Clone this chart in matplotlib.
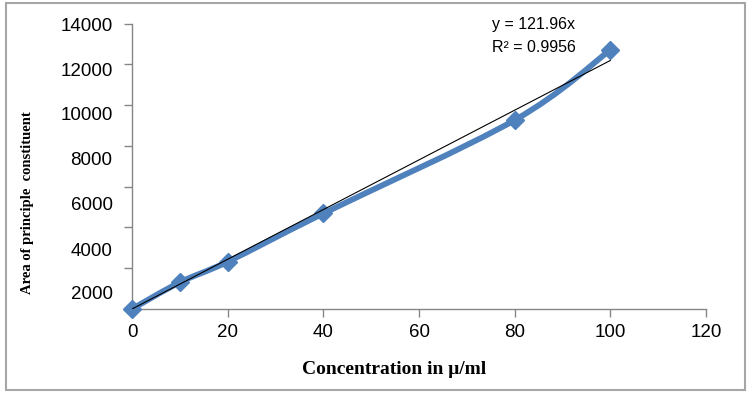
import matplotlib
matplotlib.use("Agg")
import matplotlib.pyplot as plt
import numpy as np
from matplotlib.path import Path
from matplotlib.patches import PathPatch, Rectangle

# concentration (ug/ml) and peak area
conc = [0, 10, 20, 40, 80, 100]
area = [0, 1310, 2320, 4690, 9270, 12710]
slope = 121.96
r2 = 0.9956

x_ticks = [0, 20, 40, 60, 80, 100, 120]
y_ticks = [0, 2000, 4000, 6000, 8000, 10000, 12000, 14000]
y_labels = ["2000", "4000", "6000", "8000", "10000", "12000", "14000"]
# where the labels sit (they are stretched relative to the tick marks)
y_label_pos = [810, 2933, 5161, 7408, 9616, 11765, 13961]

blue = "#4F81BD"
gray = "#868686"

fig = plt.figure(figsize=(7.49, 3.96), dpi=100)
ax = fig.add_axes([132 / 749, 1 - 309 / 396, (706 - 132) / 749, (309 - 23.7) / 396])

# smoothed series line (Catmull-Rom as cubic Bezier segments)
pts = np.column_stack([conc, area]).astype(float)
verts = [tuple(pts[0])]
codes = [Path.MOVETO]
n = len(pts)
for i in range(n - 1):
    p0 = pts[max(i - 1, 0)]
    p1 = pts[i]
    p2 = pts[i + 1]
    p3 = pts[min(i + 2, n - 1)]
    c1 = p1 + (p2 - p0) / 6
    c2 = p2 - (p3 - p1) / 6
    verts += [tuple(c1), tuple(c2), tuple(p2)]
    codes += [Path.CURVE4] * 3
ax.add_patch(PathPatch(Path(verts, codes), facecolor="none", edgecolor=blue,
                       lw=4.2, capstyle="round", joinstyle="round", zorder=2))
ax.plot(conc, area, linestyle="none", marker="D", markersize=9.5,
        color=blue, zorder=3, clip_on=False)

# linear trend through origin
ax.plot([conc[0], conc[-1]], [slope * conc[0], slope * conc[-1]],
        color="black", lw=0.8, zorder=4)

fig.text(492 / 749, 1 - 25 / 396, f"y = {slope}x", fontsize=11.5,
         family="Liberation Sans", va="center", ha="left")
fig.text(492 / 749, 1 - 48 / 396, f"R\u00b2 = {r2}", fontsize=11.5,
         family="Liberation Sans", va="center", ha="left")

ax.set_xlim(0, 120)
ax.set_ylim(0, 14000)
ax.set_xticks(x_ticks)
ax.set_xticklabels([str(v) for v in x_ticks], family="Liberation Sans", fontsize=13.5)

ax.set_yticks(y_label_pos)
ax.set_yticklabels(y_labels, family="Liberation Sans", fontsize=13.5)
ax.set_yticks(y_ticks, minor=True)
ax.tick_params(axis="y", which="major", length=0, pad=14)
ax.tick_params(axis="y", which="minor", length=6, width=1, color=gray)
ax.tick_params(axis="x", which="major", length=6, width=1, color=gray, pad=5)

for side in ["top", "right"]:
    ax.spines[side].set_visible(False)
for side in ["left", "bottom"]:
    ax.spines[side].set_color(gray)
    ax.spines[side].set_linewidth(1)

fig.text(394 / 749, 1 - 369 / 396, "Concentration in \u03bc/ml", ha="center", va="center",
         family="Liberation Serif", fontweight="bold", fontsize=14)
fig.text(28 / 749, 1 - 203 / 396, "Area of principle  constituent", rotation=90,
         ha="center", va="center", family="Liberation Serif", fontweight="bold",
         fontsize=10.5)

fig.patches.append(Rectangle((6 / 749, 1 - 390 / 396), 739 / 749, 387 / 396,
                             transform=fig.transFigure, fill=False,
                             edgecolor="#a6a6a6", lw=1.5))

fig.savefig("out.png", dpi=100)
